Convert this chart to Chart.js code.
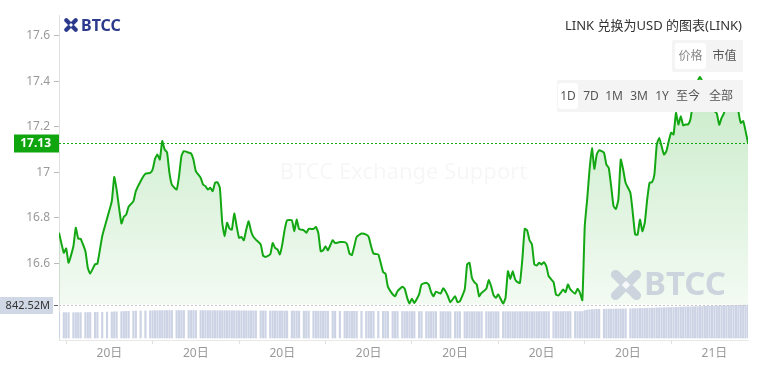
<!DOCTYPE html>
<html>
<head>
<meta charset="utf-8">
<script src="https://cdn.jsdelivr.net/npm/chart.js@4.4.0/dist/chart.umd.min.js"></script>
<style>
  html, body { margin: 0; padding: 0; background: #fff; }
  body { font-family: "Noto Sans", "Noto Sans CJK SC", sans-serif; }
  #wrap { position: relative; width: 760px; height: 369px; }
  #wrap canvas { position: absolute; left: 0; top: 0; }
  .logo { position: absolute; left: 64px; top: 14px; height: 22px; display: flex; align-items: center; }
  .title { position: absolute; right: 18px; top: 15px; font-size: 13px; color: #333; white-space: nowrap; }
  .tabs { position: absolute; left: 672px; top: 40px; width: 71px; height: 32px; background: #f4f4f4; border-radius: 2px; }
  .ranges { position: absolute; left: 557px; top: 80px; width: 186px; height: 32px; background: #f4f4f4; border-radius: 2px; }
  .btn { position: absolute; top: 3px; height: 26px; line-height: 26px; font-size: 12px; color: #555; text-align: center; }
  .btn.on { background: #fff; border-radius: 3px; }
</style>
</head>
<body>
<div id="wrap">
  <canvas id="grafico" width="760" height="369"></canvas>
  <div class="logo"><canvas id="logoIcon" width="64" height="22"></canvas></div>
  <div class="title">LINK 兑换为USD 的图表(LINK)</div>
  <div class="tabs">
    <span class="btn on" style="left:3px;width:31px;color:#888">价格</span>
    <span class="btn" style="left:37px;width:31px">市值</span>
  </div>
  <div class="ranges">
    <span class="btn on" style="left:1px;width:20px">1D</span>
    <span class="btn" style="left:24px;width:20px">7D</span>
    <span class="btn" style="left:47px;width:20px">1M</span>
    <span class="btn" style="left:71px;width:22px">3M</span>
    <span class="btn" style="left:96px;width:18px">1Y</span>
    <span class="btn" style="left:117px;width:28px">至今</span>
    <span class="btn" style="left:150px;width:28px">全部</span>
  </div>
</div>
<script>
// minutes since 20日 00:00, one row per ~100 minutes
const times = [
  75, 85, 90, 95, 105, 110, 115, 120, 130, 135, 140, 150, 155, 165, 175, 185, 190, 195,
  205, 210, 215, 220, 230, 235, 245, 255, 265, 270, 275, 280, 285, 290, 295, 300,
  305, 310, 320, 325, 330, 335, 345, 350, 355, 360, 370, 375, 380, 385, 390, 395, 400,
  405, 410, 415, 420, 425, 430, 435, 440, 445, 450, 455, 460, 465, 470, 475, 480, 485, 495, 500,
  505, 515, 520, 525, 530, 535, 540, 545, 550, 560, 565, 570, 575, 585, 590, 595,
  605, 610, 615, 620, 625, 630, 635, 645, 650, 660, 670, 675, 680, 685, 690, 695,
  705, 715, 720, 725, 730, 740, 750, 755, 760, 770, 775, 780, 790, 795, 800,
  805, 810, 815, 825, 830, 840, 845, 850, 855, 860, 870, 875, 880, 885, 890, 900,
  905, 910, 920, 925, 930, 935, 940, 945, 950, 955, 965, 970, 975, 980, 985, 990, 1000,
  1005, 1010, 1015, 1020, 1025, 1030, 1035, 1040, 1045, 1050, 1055, 1060, 1065, 1070, 1075, 1080, 1085, 1090, 1095,
  1105, 1110, 1115, 1120, 1125, 1130, 1135, 1140, 1150, 1155, 1160, 1165, 1170, 1175, 1180, 1185, 1190, 1195, 1200,
  1210, 1215, 1220, 1225, 1230, 1235, 1240, 1245, 1250, 1255, 1265, 1270, 1275, 1280, 1285, 1290, 1295, 1300,
  1305, 1310, 1315, 1320, 1325, 1330, 1335, 1340, 1345, 1350, 1355, 1360, 1365, 1370, 1375, 1380, 1385, 1390, 1395, 1400,
  1405, 1410, 1415, 1420, 1425, 1430, 1435, 1440, 1445, 1450, 1455, 1460, 1465, 1470, 1475, 1480, 1485, 1490, 1495, 1500, 1505, 1510
];

const prices = [
  16.735, 16.647, 16.666, 16.603, 16.676, 16.757, 16.709, 16.709, 16.654, 16.581, 16.556, 16.596, 16.599, 16.72, 16.797, 16.874, 16.98, 16.925,
  16.776, 16.805, 16.815, 16.849, 16.874, 16.918, 16.962, 16.994, 16.998, 17.013, 17.06, 17.079, 17.057, 17.138, 17.101, 17.089,
  16.998, 16.947, 16.925, 16.984, 17.072, 17.094, 17.087, 17.084, 17.057, 17.006, 16.977, 16.947, 16.94, 16.925, 16.933, 16.918, 16.955,
  16.957, 16.933, 16.779, 16.72, 16.779, 16.754, 16.749, 16.82, 16.764, 16.713, 16.717, 16.702, 16.749, 16.786, 16.742, 16.717, 16.705, 16.684, 16.635,
  16.629, 16.64, 16.69, 16.669, 16.662, 16.64, 16.684, 16.749, 16.79, 16.79, 16.742, 16.793, 16.752, 16.746, 16.735, 16.752,
  16.752, 16.761, 16.735, 16.654, 16.658, 16.676, 16.658, 16.702, 16.69, 16.694, 16.694, 16.684, 16.644, 16.637, 16.676, 16.717,
  16.732, 16.727, 16.717, 16.676, 16.644, 16.64, 16.562, 16.556, 16.498, 16.464, 16.456, 16.478, 16.498, 16.489, 16.45,
  16.424, 16.445, 16.427, 16.464, 16.508, 16.515, 16.508, 16.474, 16.456, 16.476, 16.468, 16.491, 16.478, 16.456, 16.43, 16.456,
  16.43, 16.434, 16.486, 16.596, 16.603, 16.537, 16.518, 16.508, 16.456, 16.471, 16.489, 16.527, 16.5, 16.461, 16.449, 16.464, 16.424,
  16.449, 16.566, 16.532, 16.566, 16.53, 16.518, 16.515, 16.618, 16.752, 16.746, 16.702, 16.684, 16.596, 16.591, 16.603, 16.596, 16.606, 16.588, 16.544,
  16.518, 16.464, 16.459, 16.471, 16.486, 16.474, 16.508, 16.486, 16.467, 16.489, 16.471, 16.439, 16.764, 16.881, 17.013, 17.108, 17.016, 17.079, 17.098,
  17.087, 17.035, 17.02, 16.94, 16.852, 16.84, 16.881, 17.057, 17.013, 16.955, 16.911, 16.823, 16.727, 16.727, 16.793, 16.742, 16.779, 16.881,
  16.955, 16.957, 16.991, 17.123, 17.152, 17.116, 17.079, 17.094, 17.138, 17.175, 17.167, 17.262, 17.211, 17.247, 17.207, 17.211, 17.211, 17.233, 17.30, 17.36,
  17.40, 17.42, 17.40, 17.38, 17.33, 17.30, 17.28, 17.27, 17.26, 17.21, 17.24, 17.26, 17.33, 17.37, 17.40, 17.38, 17.35, 17.27, 17.218, 17.226, 17.182, 17.13
];

// volume in millions (USD)
const volumes = [
  648, 648, 647, 647, 646, 646, 647, 648, 650, 651, 652, 654, 656, 658, 661, 664, 667, 670,
  674, 677, 680, 683, 686, 689, 691, 693, 695, 697, 698, 699, 700, 700, 701, 701,
  701, 702, 702, 702, 702, 702, 702, 702, 701, 701, 701, 700, 700, 700, 699, 699, 699,
  698, 698, 698, 697, 697, 697, 696, 696, 696, 695, 695, 695, 694, 694, 694, 693, 693, 693, 692,
  692, 691, 691, 691, 690, 690, 690, 689, 689, 689, 688, 688, 688, 687, 687, 687,
  686, 686, 686, 685, 685, 685, 684, 684, 684, 683, 683, 683, 682, 682, 682, 681,
  681, 681, 680, 680, 680, 679, 679, 679, 678, 678, 678, 677, 677, 677, 676,
  676, 676, 676, 675, 675, 675, 675, 674, 674, 674, 674, 674, 673, 673, 673, 673,
  673, 673, 673, 672, 672, 672, 672, 672, 672, 672, 672, 672, 672, 672, 672, 672, 672,
  672, 672, 672, 672, 672, 672, 672, 672, 673, 673, 673, 673, 673, 673, 674, 674, 674, 674, 674,
  674, 674, 674, 675, 675, 675, 675, 675, 676, 676, 676, 676, 700, 712, 720, 726, 730, 732, 734,
  735, 736, 737, 738, 739, 740, 741, 742, 743, 744, 746, 748, 750, 752, 754, 756, 758, 760,
  762, 764, 766, 768, 770, 772, 774, 776, 778, 780, 782, 784, 786, 788, 790, 792, 794, 796, 798, 800,
  802, 804, 806, 808, 810, 812, 814, 816, 818, 820, 822, 824, 826, 828, 830, 832, 834, 836, 838, 840, 841, 842.52
];

const priceTicks = [16.6, 16.8, 17, 17.2, 17.4, 17.6];
const xTickValues = [180, 360, 540, 720, 900, 1080, 1260, 1440];
const xTickLabels = ['20日', '20日', '20日', '20日', '20日', '20日', '20日', '21日'];

const PRICE_MIN = 16.2637;
const PRICE_MAX = 17.6923;
const PRICE_FLOOR = 16.42;   // bottom of the price pane
const VOL_MIN = -51;
const VOL_MAX = 8247;

const VERDE = '#13a813';
const FONTE = '"Noto Sans", "Noto Sans CJK SC", sans-serif';

function desenhaIcone(ctx, cx, cy, s, cor) {
  // X-shaped BTCC mark
  ctx.save();
  ctx.strokeStyle = cor;
  ctx.lineCap = 'round';
  ctx.lineWidth = s * 0.32;
  const d = s * 0.36;
  ctx.beginPath();
  ctx.moveTo(cx - d, cy - d); ctx.lineTo(cx + d, cy + d);
  ctx.moveTo(cx + d, cy - d); ctx.lineTo(cx - d, cy + d);
  ctx.stroke();
  ctx.globalCompositeOperation = 'destination-out';
  const g = s * 0.15;
  ctx.beginPath();
  ctx.moveTo(cx, cy - g); ctx.lineTo(cx + g, cy); ctx.lineTo(cx, cy + g); ctx.lineTo(cx - g, cy);
  ctx.closePath();
  ctx.fill();
  ctx.restore();
}

// top-left logo
(function () {
  const c = document.getElementById('logoIcon').getContext('2d');
  desenhaIcone(c, 7, 11, 13, '#2b3a8c');
  c.fillStyle = '#2b3a8c';
  c.font = 'bold 16px ' + FONTE;
  c.textBaseline = 'middle';
  c.fillText('BTCC', 17, 12);
})();

const extras = {
  id: 'extras',
  beforeDatasetsDraw(chart) {
    const { ctx, chartArea } = chart;
    ctx.save();
    ctx.fillStyle = 'rgba(0,0,0,0.035)';
    ctx.font = '22px ' + FONTE;
    ctx.textAlign = 'center';
    ctx.textBaseline = 'middle';
    ctx.fillText('BTCC Exchange Support', (chartArea.left + chartArea.right) / 2, 173);
    ctx.restore();
  },
  afterDatasetsDraw(chart) {
    const { ctx, chartArea, scales } = chart;
    const y = scales.y, yv = scales.yv;
    ctx.save();

    // watermark bottom-right
    ctx.globalAlpha = 0.8;
    desenhaIcone(ctx, 626, 285, 29, '#c3cad8');
    ctx.fillStyle = '#c3cad8';
    ctx.font = 'bold 33px ' + FONTE;
    ctx.textBaseline = 'middle';
    ctx.fillText('BTCC', 644, 286);
    ctx.globalAlpha = 1;

    // last price line + label
    const last = prices[prices.length - 1];
    const py = Math.round(y.getPixelForValue(last)) + 0.5;
    ctx.strokeStyle = VERDE;
    ctx.lineWidth = 1;
    ctx.setLineDash([2, 2]);
    ctx.beginPath();
    ctx.moveTo(chartArea.left, py);
    ctx.lineTo(chartArea.right, py);
    ctx.stroke();

    // volume line + label
    const lastVol = volumes[volumes.length - 1];
    const vy = Math.round(yv.getPixelForValue(lastVol)) + 0.5;
    ctx.strokeStyle = '#c8c8c8';
    ctx.beginPath();
    ctx.moveTo(chartArea.left, vy);
    ctx.lineTo(chartArea.right, vy);
    ctx.stroke();
    ctx.setLineDash([]);

    ctx.fillStyle = '#0ea50e';
    ctx.fillRect(14, py - 9, 45, 18);
    ctx.fillStyle = '#fff';
    ctx.font = 'bold 12px ' + FONTE;
    ctx.textAlign = 'right';
    ctx.textBaseline = 'middle';
    ctx.fillText(last.toFixed(2), 51, py + 0.5);

    ctx.fillStyle = '#d0d7e5';
    ctx.fillRect(0, vy - 8.5, 53, 17);
    ctx.strokeStyle = '#666';
    ctx.beginPath();
    ctx.moveTo(54, vy); ctx.lineTo(58, vy);
    ctx.stroke();
    ctx.fillStyle = '#333';
    ctx.font = '11px ' + FONTE;
    ctx.fillText(lastVol.toFixed(2) + 'M', 50, vy + 0.5);
    ctx.restore();
  }
};

const ctx = document.getElementById('grafico');

const grafico = new Chart(ctx, {
  type: 'line',
  data: {
    datasets: [{
      label: 'LINK/USD',
      data: times.map((t, i) => ({ x: t, y: prices[i] })),
      borderColor: VERDE,
      borderWidth: 2,
      pointRadius: 0,
      tension: 0.15,
      fill: { value: PRICE_FLOOR },
      backgroundColor: (c) => {
        const area = c.chart.chartArea;
        if (!area) return 'rgba(19,168,19,0.1)';
        const g = c.chart.ctx.createLinearGradient(0, 70, 0, 305);
        g.addColorStop(0, 'rgba(19,168,19,0.24)');
        g.addColorStop(1, 'rgba(19,168,19,0.05)');
        return g;
      },
      yAxisID: 'y',
      order: 1
    }, {
      type: 'bar',
      label: 'Volume',
      data: times.map((t, i) => ({ x: t, y: volumes[i] })),
      backgroundColor: '#ccd3e4',
      barThickness: 1.5,
      grouped: false,
      yAxisID: 'yv',
      order: 2
    }]
  },
  options: {
    responsive: false,
    animation: false,
    devicePixelRatio: 1,
    layout: { padding: { top: 15, right: 12, left: 0, bottom: 0 } },
    plugins: { legend: { display: false }, tooltip: { enabled: false } },
    scales: {
      x: {
        type: 'linear',
        min: 75,
        max: 1510,
        offset: false,
        afterBuildTicks: (s) => { s.ticks = xTickValues.map(v => ({ value: v })); },
        afterFit: (s) => { s.height = 29; },
        ticks: {
          color: '#999',
          font: { size: 12, family: FONTE },
          padding: 2,
          maxRotation: 0,
          autoSkip: false,
          callback: (v) => xTickLabels[xTickValues.indexOf(v)]
        },
        grid: { drawOnChartArea: false, tickLength: 4, color: '#e0e0e0' },
        border: { color: '#e8e8e8', dash: [2, 2] }
      },
      y: {
        position: 'left',
        min: PRICE_MIN,
        max: PRICE_MAX,
        afterBuildTicks: (s) => { s.ticks = priceTicks.map(v => ({ value: v })); },
        afterFit: (s) => { s.width = 59; },
        ticks: {
          color: '#999',
          font: { size: 12, family: FONTE },
          padding: 4,
          callback: (v) => String(v)
        },
        grid: { drawOnChartArea: false, tickLength: 5, color: '#bbb' },
        border: { color: '#e0e0e0' }
      },
      yv: {
        display: false,
        min: VOL_MIN,
        max: VOL_MAX
      }
    }
  },
  plugins: [extras]
});
</script>
</body>
</html>
